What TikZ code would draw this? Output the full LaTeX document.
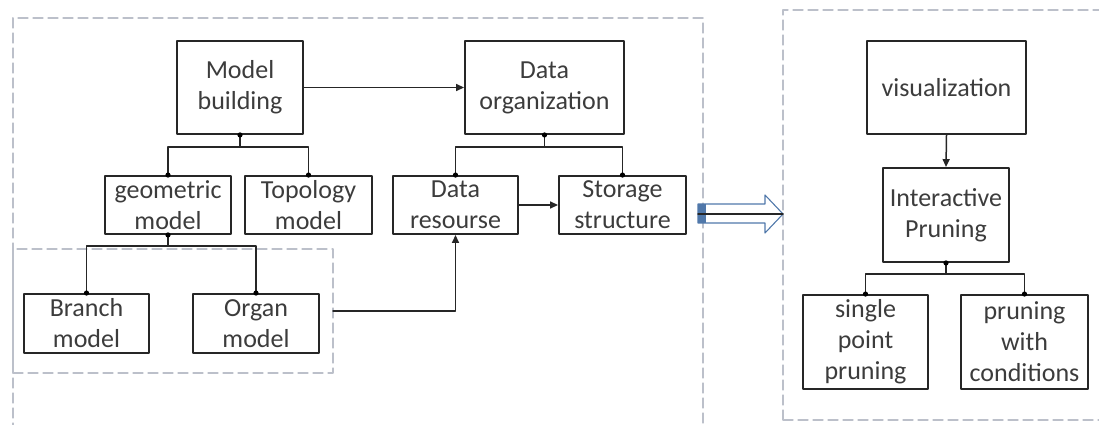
\documentclass[tikz,border=0pt]{standalone}
\usepackage{fontspec}
\setmainfont{Carlito}
\usepackage{xcolor}
\usetikzlibrary{arrows.meta,calc}
\definecolor{grpgray}{RGB}{188,192,202}
\definecolor{txtgray}{RGB}{60,60,60}
\definecolor{bigblue}{RGB}{80,120,170}
\tikzset{
  box/.style={draw=black!85,line width=1.9pt,text=txtgray,align=center,inner sep=0pt,
    font=\fontsize{26}{31}\selectfont},
  grp/.style={draw=grpgray,line width=1.3pt,dash pattern=on 10pt off 5pt,inner sep=0pt,outer sep=0pt,anchor=north west},
  link/.style={line width=1.5pt,draw=black!85},
  tip/.style={link,-{Triangle[length=8pt,width=7pt]}}
}
\begin{document}
\begin{tikzpicture}[line cap=round,line join=round,x=1pt,y=-1pt]
        \useasboundingbox (0,0) rectangle (1099,425);
        % dashed groups
        \node[grp,minimum width=690pt,minimum height=420pt] (leftgrp) at (13,18) {};
        \node[grp,minimum width=320pt,minimum height=124pt] (innergrp) at (13,249) {};
        \node[grp,minimum width=330pt,minimum height=410pt] (rightgrp) at (783,10) {};
        % left part
        \node[box,minimum width=126pt,minimum height=93pt] (build) at (240,87.5) {Model\\building};
        \node[box,minimum width=159pt,minimum height=93pt] (dorg) at (544.5,87.5) {Data\\organization};
        \node[box,minimum width=126pt,minimum height=58pt] (geo) at (168,205) {geometric\\model};
        \node[box,minimum width=127pt,minimum height=58pt] (topo) at (308.5,205) {Topology\\model};
        \node[box,minimum width=125pt,minimum height=58pt] (dres) at (455.5,205) {Data\\resourse};
        \node[box,minimum width=127pt,minimum height=58pt] (store) at (622.5,205) {Storage\\structure};
        \node[box,minimum width=125pt,minimum height=59pt] (branch) at (86.5,323.5) {Branch\\model};
        \node[box,minimum width=126pt,minimum height=59pt] (organ) at (256,323.5) {Organ\\model};
        % right part
        \node[box,minimum width=159pt,minimum height=93pt] (vis) at (946.5,87.5) {visualization};
        \node[box,minimum width=126pt,minimum height=94pt] (prune) at (946,215) {Interactive\\Pruning};
        \node[box,minimum width=125pt,minimum height=94pt] (single) at (865.5,342) {single\\point\\pruning};
        \node[box,minimum width=127pt,minimum height=94pt] (cond) at (1024.5,342) {pruning\\with\\conditions};
        % tree links
        \draw[link] (build.south) -- ++(0,12) coordinate (bb) -| (geo.north);
        \draw[link] (bb) -| (topo.north);
        \draw[link] (dorg.south) -- ++(0,12) coordinate (db) -| (dres.north);
        \draw[link] (db) -| (store.north);
        \draw[link] (geo.south) -- ++(0,11) coordinate (gb) -| (branch.north);
        \draw[link] (gb) -| (organ.north);
        \draw[link] (prune.south) -- ++(0,11) coordinate (pb) -| (single.north);
        \draw[link] (pb) -| (cond.north);
        \foreach \p in {build.south,geo.north,topo.north,dorg.south,dres.north,store.north,
                        geo.south,branch.north,organ.north,prune.south,single.north,cond.north}
            \fill[black] (\p) circle (2.6pt);
        % arrows
        \draw[tip] (build.east) -- (dorg.west);
        \draw[tip] (dres.east) -- (store.west);
        \draw[tip] (innergrp.east) -| (dres.south);
        \draw[tip] (vis.south) -- (prune.north);
        % hollow arrow between groups
        \coordinate (ha) at (leftgrp.east |- 0,214);
        \coordinate (hb) at (rightgrp.west |- 0,214);
        \fill[bigblue] ($(ha)+(-5,-10)$) rectangle ($(ha)+(3,9)$);
        \draw[bigblue,line width=1.1pt] ($(ha)+(-5,-10)$) -- ($(hb)+(-18,-10)$) -- ($(hb)+(-18,-19)$)
            -- (hb) -- ($(hb)+(-18,19)$) -- ($(hb)+(-18,9)$) -- ($(ha)+(-5,9)$) -- cycle;
        \draw[link] ($(ha)+(-5,0)$) -- (hb);
\end{tikzpicture}
\end{document}
